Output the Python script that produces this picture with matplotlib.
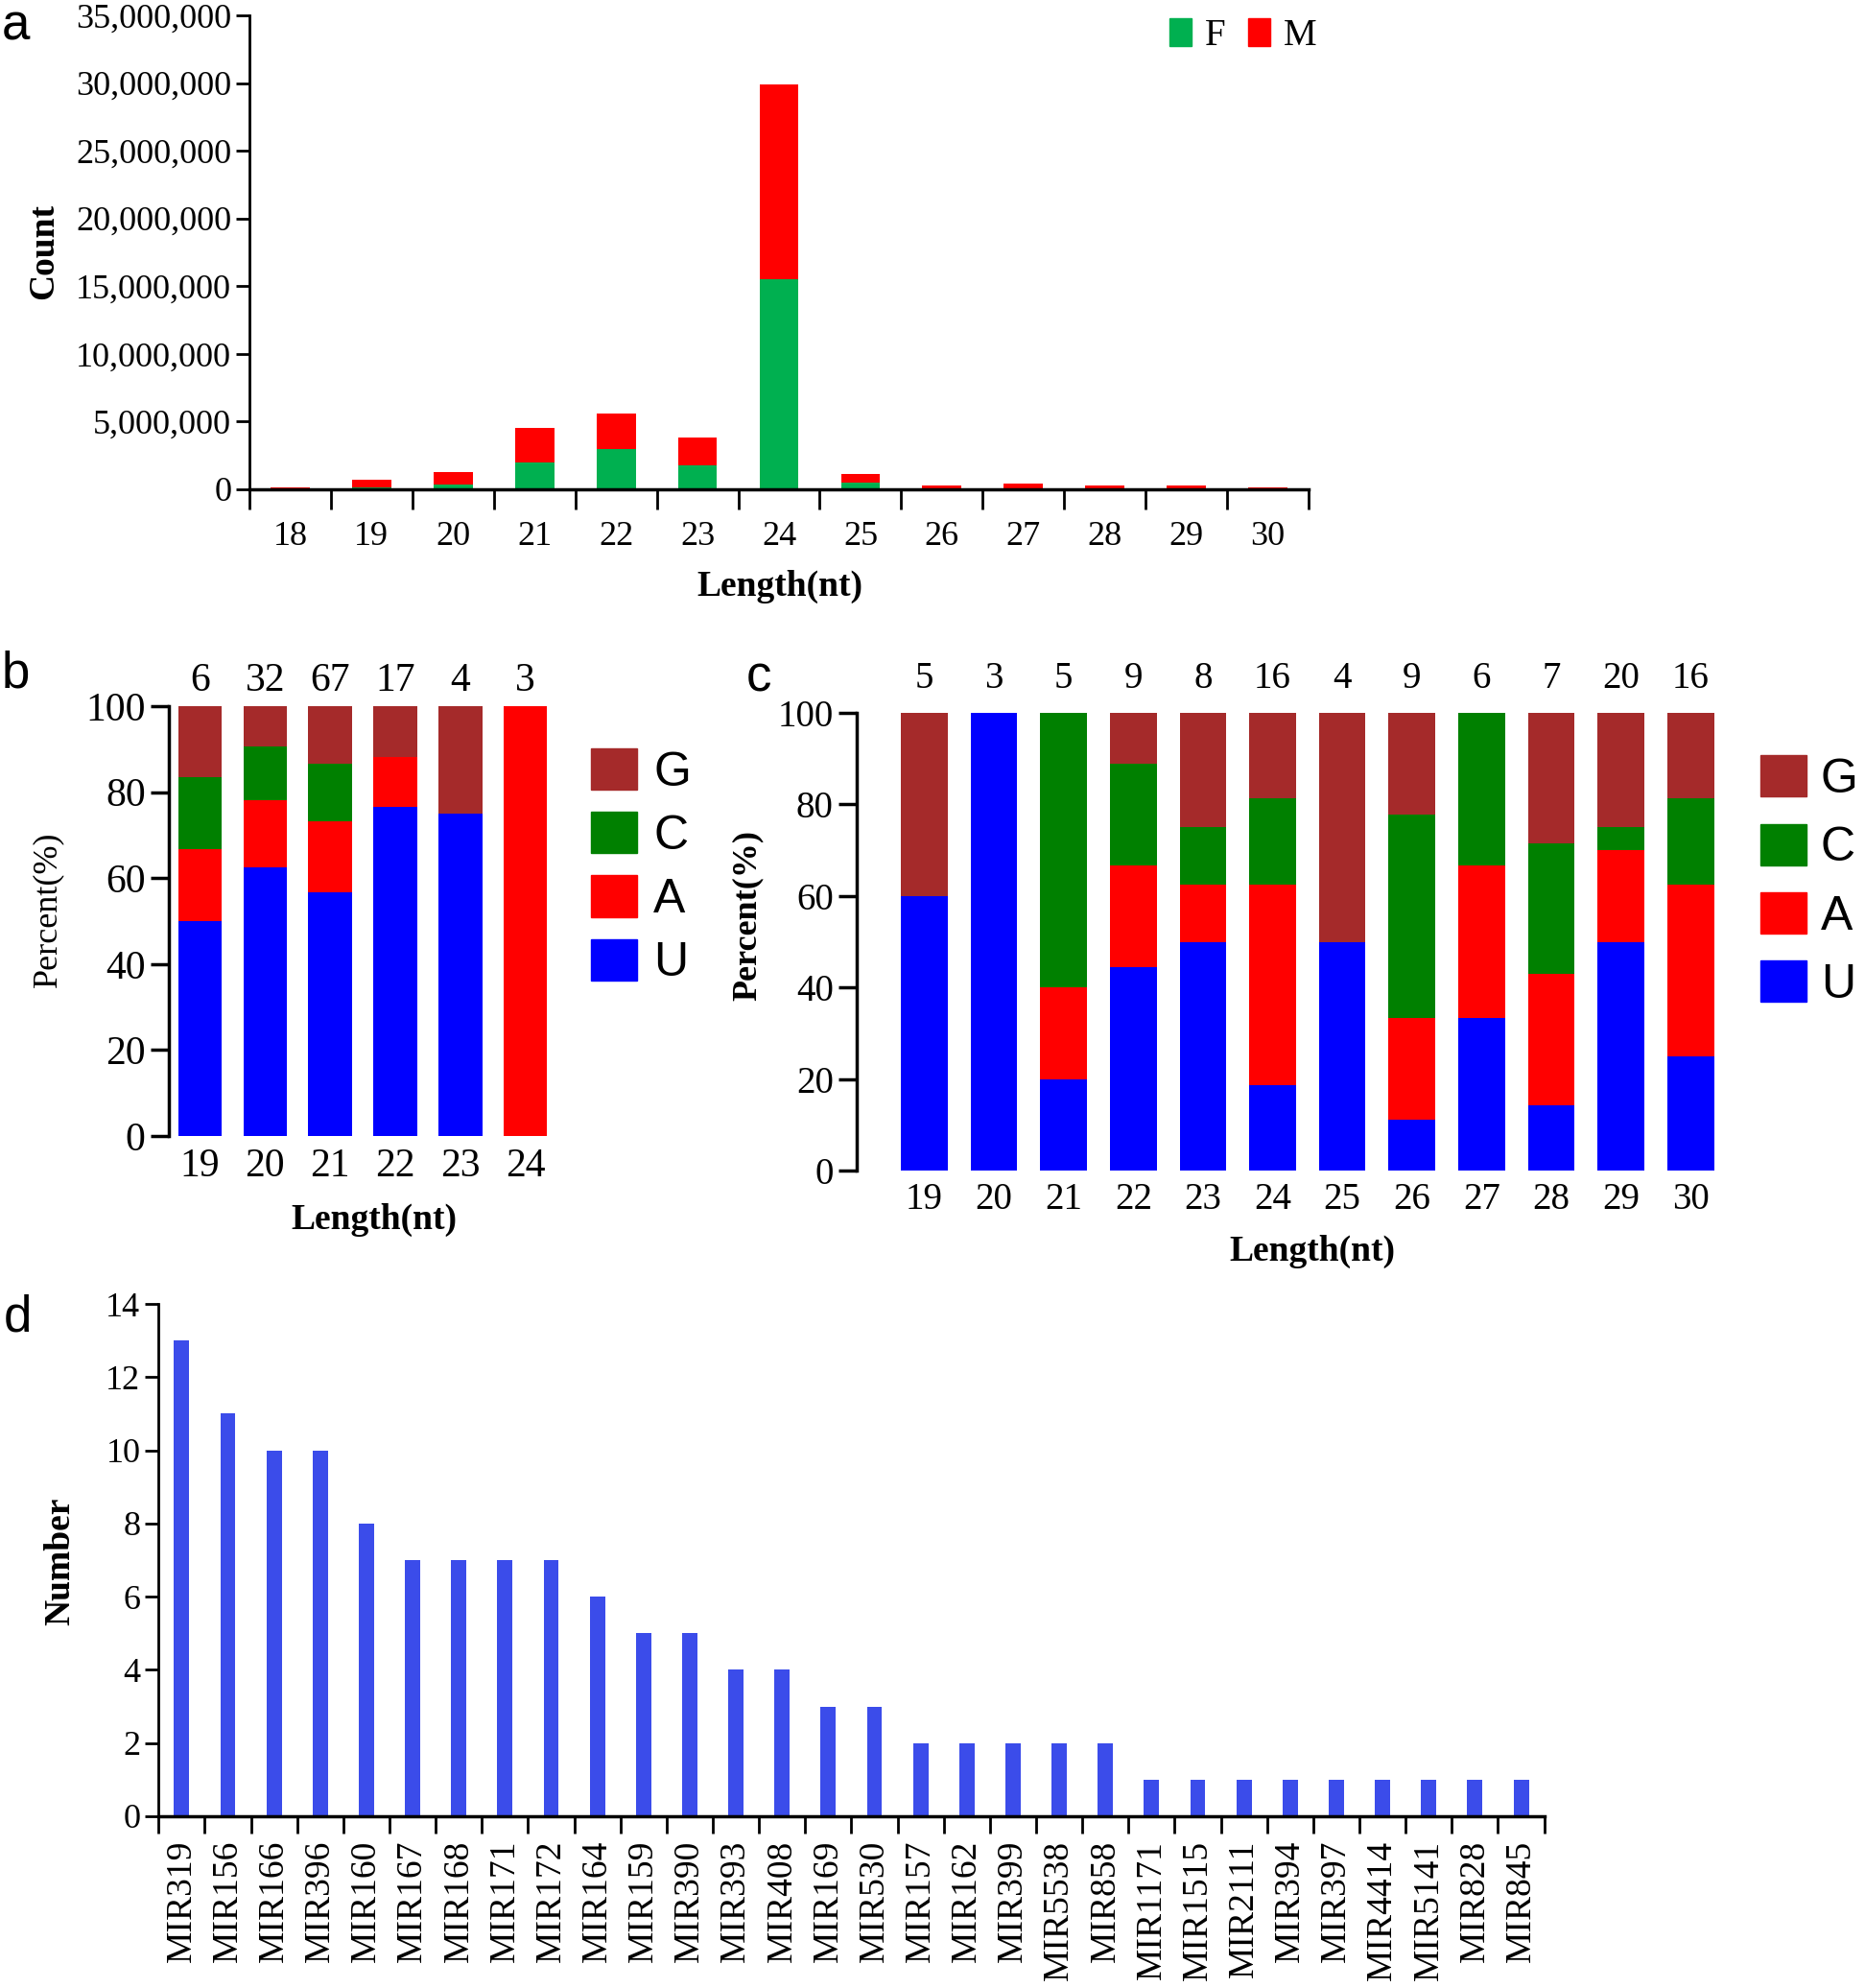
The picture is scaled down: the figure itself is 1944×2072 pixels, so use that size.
import matplotlib
matplotlib.use("Agg")
import matplotlib.pyplot as plt
from matplotlib.patches import Patch
from matplotlib.ticker import FuncFormatter
import numpy as np

plt.rcParams['font.family'] = ['Liberation Serif', 'DejaVu Serif']

# ---- panel a data: read counts by length ----
a_lengths = ['18', '19', '20', '21', '22', '23', '24', '25', '26', '27', '28', '29', '30']
a_total = [150000, 700000, 1250000, 4550000, 5600000, 3800000, 29900000,
           1150000, 300000, 400000, 300000, 300000, 150000]
a_female = [20000, 150000, 350000, 2000000, 3000000, 1800000, 15500000,
            500000, 50000, 50000, 50000, 50000, 30000]
a_male = [t - f for t, f in zip(a_total, a_female)]

# ---- panel b data: first-base percentages ----
b_lengths = ['19', '20', '21', '22', '23', '24']
b_counts = [6, 32, 67, 17, 4, 3]
b_U = [50.0, 62.5, 56.7, 76.5, 75.0, 0.0]
b_A = [16.7, 15.6, 16.4, 11.7, 0.0, 100.0]
b_C = [16.7, 12.5, 13.5, 0.0, 0.0, 0.0]
b_G = [16.6, 9.4, 13.4, 11.8, 25.0, 0.0]

# ---- panel c data ----
c_lengths = ['19', '20', '21', '22', '23', '24', '25', '26', '27', '28', '29', '30']
c_counts = [5, 3, 5, 9, 8, 16, 4, 9, 6, 7, 20, 16]
c_U = [60.0, 100.0, 20.0, 44.4, 50.0, 18.75, 50.0, 11.1, 33.3, 14.3, 50.0, 25.0]
c_A = [0.0, 0.0, 20.0, 22.2, 12.5, 43.75, 0.0, 22.2, 33.3, 28.6, 20.0, 37.5]
c_C = [0.0, 0.0, 60.0, 22.3, 12.5, 18.75, 0.0, 44.5, 33.4, 28.5, 5.0, 18.75]
c_G = [40.0, 0.0, 0.0, 11.1, 25.0, 18.75, 50.0, 22.2, 0.0, 28.6, 25.0, 18.75]

# ---- panel d data: miRNA family sizes ----
d_families = ['MIR319', 'MIR156', 'MIR166', 'MIR396', 'MIR160', 'MIR167', 'MIR168',
              'MIR171', 'MIR172', 'MIR164', 'MIR159', 'MIR390', 'MIR393', 'MIR408',
              'MIR169', 'MIR530', 'MIR157', 'MIR162', 'MIR399', 'MIR5538', 'MIR858',
              'MIR1171', 'MIR1515', 'MIR2111', 'MIR394', 'MIR397', 'MIR4414',
              'MIR5141', 'MIR828', 'MIR845']
d_numbers = [13, 11, 10, 10, 8, 7, 7, 7, 7, 6, 5, 5, 4, 4, 3, 3, 2, 2, 2, 2, 2,
             1, 1, 1, 1, 1, 1, 1, 1, 1]

col_U, col_A, col_C, col_G = '#0000ff', '#ff0000', '#008000', '#a52a2a'
sans = ['Liberation Sans', 'DejaVu Sans']

fig = plt.figure(figsize=(19.44, 20.72), dpi=100)

# ================= panel a =================
ax = fig.add_axes([0.1337, 0.7539, 0.568, 0.2384])
x = np.arange(len(a_lengths))
ax.bar(x, a_female, width=0.48, color='#00b050', label='F')
ax.bar(x, a_male, width=0.48, bottom=a_female, color='#ff0000', label='M')
ax.set_xlim(-0.5, len(a_lengths) - 0.5)
ax.set_ylim(0, 35000000)
ax.set_yticks(np.arange(0, 35000001, 5000000))
ax.yaxis.set_major_formatter(FuncFormatter(lambda v, p: f'{int(v):,}'))
ax.set_xticks(np.arange(-0.5, len(a_lengths)), labels=[])
ax.set_xticks(x, labels=a_lengths, minor=True)
ax.tick_params(axis='x', which='major', length=15, width=2, direction='out')
ax.tick_params(axis='x', which='minor', length=0, pad=24, labelsize=26)
ax.tick_params(axis='y', length=10, width=2, labelsize=26)
for s in ['top', 'right']:
    ax.spines[s].set_visible(False)
ax.spines['left'].set_linewidth(2)
ax.spines['bottom'].set_linewidth(2.5)
ax.set_ylabel('Count', fontsize=27, fontweight='bold')
ax.yaxis.set_label_coords(-0.178, 0.502)
ax.set_xlabel('Length(nt)', fontsize=27, fontweight='bold')
ax.xaxis.set_label_coords(0.501, -0.17)
ax.legend(handles=[Patch(color='#00b050', label='F'), Patch(color='#ff0000', label='M')],
          ncol=2, loc='upper right', bbox_to_anchor=(0.706, 0.991),
          bbox_transform=fig.transFigure, frameon=False, fontsize=28,
          handlelength=0.6, handleheight=0.8, handletextpad=0.35,
          columnspacing=0.6, borderpad=0, borderaxespad=0)


def comp_panel(rect, lengths, counts, U, A, C, G, xlim, tick_fs, count_off,
               ylab_coords, xlab_coords, ylab_bold, leg_anchor, leg_fs, leg_sp, leg_pad):
    ax = fig.add_axes(rect)
    x = np.arange(len(lengths))
    bottom = np.zeros(len(lengths))
    for vals, col in [(U, col_U), (A, col_A), (C, col_C), (G, col_G)]:
        ax.bar(x, vals, width=0.67, bottom=bottom, color=col)
        bottom = bottom + np.array(vals)
    for xi, n in zip(x, counts):
        ax.text(xi, 100 + count_off, str(n), ha='center', va='bottom', fontsize=tick_fs)
    ax.set_xlim(*xlim)
    ax.set_ylim(0, 100)
    ax.set_yticks(np.arange(0, 101, 20))
    ax.set_xticks(x, labels=lengths)
    ax.tick_params(axis='x', length=0, pad=9, labelsize=tick_fs)
    ax.tick_params(axis='y', length=14, width=2.5, labelsize=tick_fs)
    for s in ['top', 'right', 'bottom']:
        ax.spines[s].set_visible(False)
    ax.spines['left'].set_linewidth(2.5)
    ax.set_ylabel('Percent(%)', fontsize=26, fontweight='bold' if ylab_bold else 'normal')
    ax.yaxis.set_label_coords(*ylab_coords)
    ax.set_xlabel('Length(nt)', fontsize=27, fontweight='bold')
    ax.xaxis.set_label_coords(*xlab_coords)
    handles = [Patch(color=col_G, label='G'), Patch(color=col_C, label='C'),
               Patch(color=col_A, label='A'), Patch(color=col_U, label='U')]
    ax.legend(handles=handles, loc='upper left', bbox_to_anchor=leg_anchor,
              bbox_transform=fig.transFigure, frameon=False,
              prop={'family': sans, 'size': leg_fs},
              handlelength=0.95, handleheight=0.95, handletextpad=leg_pad,
              labelspacing=leg_sp, borderpad=0, borderaxespad=0)
    return ax


# ================= panel b =================
comp_panel([0.0905, 0.4286, 0.2094, 0.2162], b_lengths, b_counts, b_U, b_A, b_C, b_G,
           (-0.48, 5.52), 30, 1.5, (-0.27, 0.527), (0.526, -0.155), False,
           (0.317, 0.6236), 36, 0.35, 0.35)

# ================= panel c =================
comp_panel([0.4594, 0.4112, 0.465, 0.2302], c_lengths, c_counts, c_U, c_A, c_C, c_G,
           (-0.97, 11.48), 28, 3.5, (-0.108, 0.558), (0.525, -0.14), True,
           (0.944, 0.620), 36, 0.45, 0.3)

# ================= panel d =================
ax = fig.add_axes([0.085, 0.0864, 0.743, 0.2577])
x = np.arange(len(d_families))
ax.bar(x, d_numbers, width=0.33, color='#3b4cea')
ax.set_xlim(-0.5, len(d_families) - 0.5)
ax.set_ylim(0, 14)
ax.set_yticks(np.arange(0, 15, 2))
ax.set_xticks(np.arange(-0.5, len(d_families)), labels=[])
ax.set_xticks(x, labels=d_families, minor=True, rotation=90)
ax.tick_params(axis='x', which='major', length=13, width=2, direction='out')
ax.tick_params(axis='x', which='minor', length=0, pad=18, labelsize=27)
ax.tick_params(axis='y', length=10, width=2, labelsize=26)
for s in ['top', 'right']:
    ax.spines[s].set_visible(False)
ax.spines['left'].set_linewidth(2)
ax.spines['bottom'].set_linewidth(2.5)
ax.set_ylabel('Number', fontsize=27, fontweight='bold')
ax.yaxis.set_label_coords(-0.059, 0.498)

# panel letters
for lx, ly, t in [(0.001, 0.999, 'a'), (0.001, 0.673, 'b'), (0.400, 0.671, 'c'),
                  (0.002, 0.349, 'd')]:
    fig.text(lx, ly, t, fontsize=38, family=sans, va='top', ha='left')

fig.savefig('out.png', dpi=100)
